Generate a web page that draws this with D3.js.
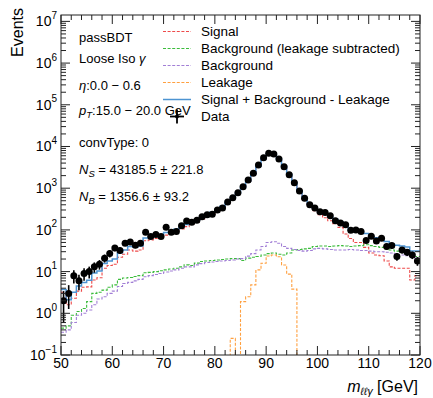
<!DOCTYPE html>
<html>
<head>
<meta charset="utf-8">
<script src="https://cdn.jsdelivr.net/npm/d3@7"></script>
<style>
  body { margin: 0; background: #fff; }
  text { font-family: "Liberation Sans", Arial, sans-serif; fill: #000; }
</style>
</head>
<body>
<div id="chart"></div>
<script>
// bin edges of m_llg in GeV (1 GeV bins)
var edges = d3.range(50, 121, 1);

var dataCounts = [2, 3, 8, 6, 9, 10, 13, 15, 21, 27,
  37, 32, 48, 51, 43, 48, 88, 69, 78, 69,
  115, 88, 91, 126, 163, 152, 170, 207, 232, 237,
  300, 335, 467, 592, 780, 1086, 1573, 2275, 3600, 5380,
  6870, 6600, 5000, 3280, 2110, 1356, 857, 573, 402, 335,
  273, 263, 219, 166, 146, 133, 98, 100, 91, 56,
  70, 54, 63, 40, 42, 23, 33, 29, 25, 18];

var signal = [3.2, 1.6, 2.3, 3.4, 4.2, 4.3, 6.3, 7.1, 12, 14,
  15, 22, 26, 33, 31, 33, 55, 57, 62, 65,
  75, 82, 92, 105, 120, 135, 155, 180, 210, 245,
  290, 350, 440, 570, 750, 1020, 1470, 2180, 3350, 5050,
  6600, 6500, 5050, 3300, 2100, 1330, 830, 540, 380, 290,
  230, 195, 165, 140, 115, 80, 62, 50, 50, 38,
  28, 25, 24, 18, 13, 12, 12, 12, 6.3, 8];

var bkgSub = [0.44, 0.5, 0.9, 1.1, 1.3, 1.9, 3.0, 3.2, 3.6, 4.2,
  4.8, 6.5, 7.0, 7.2, 7.6, 8.0, 9.4, 9.6, 10, 10.5,
  11, 11.5, 12, 13, 14.5, 14, 16, 17.5, 18, 18.5,
  19, 19.5, 20, 20.5, 20.5, 18.5, 21, 22, 23, 25,
  27, 28, 26, 25, 28, 33, 34, 35, 36, 40,
  41, 41, 40, 41, 42, 41, 40, 41, 42, 44,
  42, 40, 38, 35, 33, 31, 29, 27, 25, 23];

var bkg = [0.35, 0.4, 0.6, 0.9, 1.0, 1.2, 1.6, 2.2, 2.5, 3.0,
  3.4, 4.4, 5.2, 5.5, 6.0, 6.5, 7.5, 8.0, 8.5, 9.0,
  9.8, 10.3, 11, 12, 13, 13, 14.5, 15.5, 16.5, 17,
  17.5, 18, 18.5, 19, 20, 20.5, 23.5, 27, 33, 40,
  50, 52, 48, 40, 36, 34, 32, 31, 32, 35,
  36, 35, 34, 33, 33, 33, 34, 33, 32, 32,
  31, 30, 30, 29, 28, 26, 25, 24, 23, 21];

var leakage = [0, 0, 0, 0, 0, 0, 0, 0, 0, 0,
  0, 0, 0, 0, 0, 0, 0, 0, 0, 0,
  0, 0, 0, 0, 0, 0, 0, 0, 0, 0,
  0, 0, 0, 0.25, 0, 1.9, 2.5, 4.8, 11, 15.9,
  23.7, 25, 22.7, 14.4, 8.7, 3.8, 0, 0, 0, 0,
  0, 0, 0, 0, 0, 0, 0, 0, 0, 0,
  0, 0, 0, 0, 0, 0, 0, 0, 0, 0];

var sigPlusBkg = [3.7, 2.1, 3.2, 4.5, 5.5, 6.2, 9.3, 10.3, 15.6, 18,
  20, 28.5, 33, 40, 39, 41, 64, 67, 72, 76,
  86, 94, 104, 118, 135, 149, 171, 198, 228, 264,
  309, 370, 460, 590, 770, 1040, 1490, 2200, 3370, 5075,
  6630, 6530, 5080, 3325, 2130, 1360, 864, 575, 416, 330,
  271, 236, 205, 181, 157, 125, 104, 93, 92, 82,
  70, 65, 62, 53, 46, 43, 41, 39, 31, 31];

var xTicks = [50, 60, 70, 80, 90, 100, 110, 120];
var yDecades = [-1, 0, 1, 2, 3, 4, 5, 6, 7];

var legendNames = ["Signal", "Background (leakage subtracted)", "Background", "Leakage", "Signal + Background - Leakage"];
var legendColors = ["#ee4a4a", "#3cbc3c", "#a27fd6", "#ffa040", "#4d94d2"];

var W = 433, H = 398;
var plotL = 61, plotT = 15, plotR = 420, plotB = 355;

var svg = d3.select("#chart").append("svg")
  .attr("width", W)
  .attr("height", H);

var x = d3.scaleLinear().domain([50, 120]).range([plotL, plotR]);
var y = d3.scaleLog().domain([0.1, Math.pow(10, 7.153)]).range([plotB, plotT]);

function yv(v) {
  return v > 0 ? y(v) : plotB + 30;
}

svg.append("defs").append("clipPath")
  .attr("id", "plotClip")
  .append("rect")
  .attr("x", plotL).attr("y", plotT)
  .attr("width", plotR - plotL).attr("height", plotB - plotT);

var stepLine = d3.line()
  .x(function (d) { return x(d[0]); })
  .y(function (d) { return yv(d[1]); })
  .curve(d3.curveStepAfter);

function stepPts(vals) {
  var pts = vals.map(function (v, i) { return [edges[i], v]; });
  pts.push([edges[vals.length], vals[vals.length - 1]]);
  return pts;
}

var hists = [signal, bkgSub, bkg, leakage, sigPlusBkg];
var plot = svg.append("g").attr("clip-path", "url(#plotClip)");

hists.forEach(function (h, i) {
  plot.append("path")
    .attr("d", stepLine(stepPts(h)))
    .attr("fill", "none")
    .attr("stroke", legendColors[i])
    .attr("stroke-width", i == 4 ? 1.5 : 1.1)
    .attr("stroke-dasharray", i == 4 ? null : "3,1.6");
});

// data points with sqrt(N) errors
var pts = plot.selectAll(".pt")
  .data(dataCounts)
  .enter().append("g")
  .attr("class", "pt");

pts.append("line")
  .attr("x1", function (d, i) { return x(edges[i] + 0.5); })
  .attr("x2", function (d, i) { return x(edges[i] + 0.5); })
  .attr("y1", function (d) { return yv(d - Math.sqrt(d)); })
  .attr("y2", function (d) { return y(d + Math.sqrt(d)); })
  .attr("stroke", "#000")
  .attr("stroke-width", 1.6);

pts.append("line")
  .attr("x1", function (d, i) { return x(edges[i]); })
  .attr("x2", function (d, i) { return x(edges[i] + 1); })
  .attr("y1", function (d) { return y(d); })
  .attr("y2", function (d) { return y(d); })
  .attr("stroke", "#000")
  .attr("stroke-width", 1.6);

pts.append("circle")
  .attr("cx", function (d, i) { return x(edges[i] + 0.5); })
  .attr("cy", function (d) { return y(d); })
  .attr("r", 3.5)
  .attr("fill", "#000");

// frame and ticks
var axisG = svg.append("g").attr("stroke", "#222").attr("stroke-width", 1);

axisG.append("rect")
  .attr("x", plotL).attr("y", plotT)
  .attr("width", plotR - plotL).attr("height", plotB - plotT)
  .attr("fill", "none");

var xMinor = d3.range(50, 121, 2).filter(function (v) { return v % 10 != 0; });
xTicks.forEach(function (t) {
  axisG.append("line").attr("x1", x(t)).attr("x2", x(t)).attr("y1", plotB).attr("y2", plotB - 9);
  axisG.append("line").attr("x1", x(t)).attr("x2", x(t)).attr("y1", plotT).attr("y2", plotT + 9);
});
xMinor.forEach(function (t) {
  axisG.append("line").attr("x1", x(t)).attr("x2", x(t)).attr("y1", plotB).attr("y2", plotB - 5);
  axisG.append("line").attr("x1", x(t)).attr("x2", x(t)).attr("y1", plotT).attr("y2", plotT + 5);
});

var yMax = y.domain()[1];
yDecades.forEach(function (k) {
  var base = Math.pow(10, k);
  var yy = y(base);
  axisG.append("line").attr("x1", plotL).attr("x2", plotL + 9).attr("y1", yy).attr("y2", yy);
  axisG.append("line").attr("x1", plotR).attr("x2", plotR - 9).attr("y1", yy).attr("y2", yy);
  for (var m = 2; m <= 9; m++) {
    var v = m * base;
    if (v > yMax) break;
    var ym = y(v);
    axisG.append("line").attr("x1", plotL).attr("x2", plotL + 5).attr("y1", ym).attr("y2", ym);
    axisG.append("line").attr("x1", plotR).attr("x2", plotR - 5).attr("y1", ym).attr("y2", ym);
  }
});

// tick labels
svg.selectAll(".xlab")
  .data(xTicks)
  .enter().append("text")
  .attr("class", "xlab")
  .attr("x", function (d) { return x(d); })
  .attr("y", 368)
  .attr("text-anchor", "middle")
  .style("font-size", "14px")
  .text(function (d) { return d; });

var ylab = svg.selectAll(".ylab")
  .data(yDecades)
  .enter().append("text")
  .attr("class", "ylab")
  .attr("x", 57)
  .attr("y", function (d) { return y(Math.pow(10, d)) + 5; })
  .attr("text-anchor", "end")
  .style("font-size", "14px");
ylab.append("tspan").text("10");
ylab.append("tspan")
  .attr("dy", -7.5)
  .style("font-size", "10px")
  .text(function (d) { return d < 0 ? "\u2212" + (-d) : d; });

// axis titles
svg.append("text")
  .attr("transform", "translate(22.5,8) rotate(-90)")
  .attr("text-anchor", "end")
  .style("font-size", "16px")
  .text("Events");

var xt = svg.append("text")
  .attr("x", 418)
  .attr("y", 392)
  .attr("text-anchor", "end")
  .style("font-size", "16px");
xt.append("tspan").style("font-style", "italic").text("m");
xt.append("tspan").attr("dy", 2.5).style("font-size", "10.5px").style("font-style", "italic").text("\u2113\u2113\u03b3");
xt.append("tspan").attr("dy", -2.5).text(" [GeV]");

// annotations
var ann = svg.append("g").style("font-size", "13px");
ann.append("text").attr("x", 79).attr("y", 42).text("passBDT");
var t2 = ann.append("text").attr("x", 79).attr("y", 63);
t2.append("tspan").text("Loose Iso ");
t2.append("tspan").style("font-style", "italic").text("\u03b3");
var t3 = ann.append("text").attr("x", 79).attr("y", 90);
t3.append("tspan").style("font-style", "italic").text("\u03b7");
t3.append("tspan").text(":0.0 \u2212 0.6");
var t4 = ann.append("text").attr("x", 79).attr("y", 115);
t4.append("tspan").style("font-style", "italic").text("p");
t4.append("tspan").attr("dy", 3).style("font-size", "9.5px").style("font-style", "italic").text("T");
t4.append("tspan").attr("dy", -3).text(":15.0 \u2212 20.0  GeV");
ann.append("text").attr("x", 79).attr("y", 147).text("convType: 0");
var t6 = ann.append("text").attr("x", 79).attr("y", 174);
t6.append("tspan").style("font-style", "italic").text("N");
t6.append("tspan").attr("dy", 3).style("font-size", "9.5px").style("font-style", "italic").text("S");
t6.append("tspan").attr("dy", -3).text(" = 43185.5 \u00b1 221.8");
var t7 = ann.append("text").attr("x", 79).attr("y", 201);
t7.append("tspan").style("font-style", "italic").text("N");
t7.append("tspan").attr("dy", 3).style("font-size", "9.5px").style("font-style", "italic").text("B");
t7.append("tspan").attr("dy", -3).text(" = 1356.6 \u00b1 93.2");

// legend
var legend = svg.append("g");
legendNames.forEach(function (name, i) {
  var ly = 31.5 + i * 17;
  legend.append("line")
    .attr("x1", 163).attr("x2", 191)
    .attr("y1", ly).attr("y2", ly)
    .attr("stroke", legendColors[i])
    .attr("stroke-width", i == 4 ? 1.5 : 1.1)
    .attr("stroke-dasharray", i == 4 ? null : "3,1.6");
  legend.append("text")
    .attr("x", 201).attr("y", ly + 4.7)
    .style("font-size", "13.5px")
    .text(name);
});
var dy0 = 31.5 + 5 * 17;
legend.append("line").attr("x1", 170).attr("x2", 184).attr("y1", dy0).attr("y2", dy0)
  .attr("stroke", "#000").attr("stroke-width", 1.8);
legend.append("line").attr("x1", 177).attr("x2", 177).attr("y1", dy0 - 7).attr("y2", dy0 + 7)
  .attr("stroke", "#000").attr("stroke-width", 1.8);
legend.append("circle").attr("cx", 177).attr("cy", dy0).attr("r", 2).attr("fill", "#000");
legend.append("text").attr("x", 201).attr("y", dy0 + 4.7).style("font-size", "13.5px").text("Data");
</script>
</body>
</html>
